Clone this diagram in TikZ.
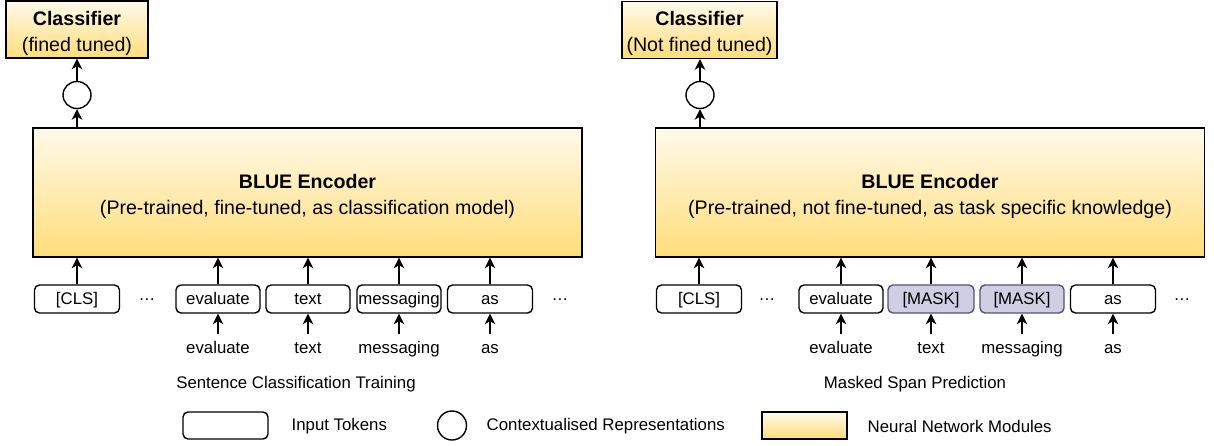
\documentclass[tikz,border=0pt]{standalone}
\usepackage{fontspec}
\setmainfont{Liberation Sans}
\usetikzlibrary{arrows.meta,shapes.geometric}
\definecolor{maskfill}{HTML}{D0CEE2}
\definecolor{maskdraw}{HTML}{56517E}
\definecolor{ytop}{HTML}{FFFAEB}
\definecolor{ybot}{HTML}{FFDD7A}
\newcommand{\tstrut}{\rule{0pt}{22pt}}
\begin{document}
\begin{tikzpicture}[x=1pt,y=-1pt,line width=1.4pt,
  tok/.style={draw,rounded corners=5pt,minimum width=84pt,minimum height=28pt,inner sep=0pt,text height=13pt,text depth=2pt,font=\fontsize{16.8}{20}\selectfont},
  masktok/.style={tok,fill=maskfill,draw=maskdraw},
  lbl/.style={inner sep=0pt,font=\fontsize{16.8}{20}\selectfont},
  sub/.style={lbl,text height=13pt,text depth=4pt,anchor=base},
  module/.style={draw,top color=ytop,bottom color=ybot,inner sep=0pt,align=center,font=\fontsize{19.6}{26}\selectfont},
  rep/.style={draw,ellipse,minimum width=28pt,minimum height=27pt,inner sep=0pt},
  arr/.style={-{Stealth[length=10.5pt,width=10.5pt,inset=3pt]}}]
\useasboundingbox (0,0) rectangle (1214,445);

% ---------- left panel ----------
\node[module,minimum width=142pt,minimum height=57pt] (clsL) at (77,29.5) {\tstrut\textbf{Classifier}\\(fined tuned)};
\node[rep] (repL) at (77,95) {};
\node[module,minimum width=549pt,minimum height=129pt] (encL) at (307.5,192.5) {\tstrut\textbf{BLUE Encoder}\\(Pre-trained, fine-tuned, as classification model)};
\draw[arr] (repL.north) -- (clsL.south);
\draw[arr] (repL |- encL.north) -- (repL.south);

\node[tok,minimum width=85pt] (aL1) at (77,299) {[CLS]};
\node[lbl] (dL1) at (147,300) {\ldots};
\node[tok] (aL2) at (218,299) {evaluate};
\node[tok] (aL3) at (308,299) {text};
\node[tok] (aL4) at (399,299) {messaging};
\node[tok,minimum width=85pt] (aL5) at (490,299) {as};
\node[lbl] (dL2) at (560,300) {\ldots};
\foreach \i in {1,...,5} {\draw[arr] (aL\i.north) -- (aL\i.north |- encL.south);}

\node[sub] (bL2) at (218,353) {evaluate};
\node[sub] (bL3) at (308,353) {text};
\node[sub] (bL4) at (399,353) {messaging};
\node[sub] (bL5) at (490,353) {as};
\foreach \i in {2,...,5} {\draw[arr,shorten <=5pt] (bL\i.north) -- (aL\i.south);}

\node[lbl] (capL) at (296,384) {Sentence Classification Training};

% ---------- right panel ----------
\node[module,minimum width=155pt,minimum height=57pt] (clsR) at (699.5,30) {\tstrut\textbf{Classifier}\\(Not fined tuned)};
\node[rep] (repR) at (700,95) {};
\node[module,minimum width=549pt,minimum height=129pt] (encR) at (930,192.5) {\tstrut\textbf{BLUE Encoder}\\(Pre-trained, not fine-tuned, as task specific knowledge)};
\draw[arr] (repR.north) -- (repR.north |- clsR.south);
\draw[arr] (repR |- encR.north) -- (repR.south);

\node[tok,minimum width=85pt] (aR1) at (699,299) {[CLS]};
\node[lbl] (dR1) at (767,300) {\ldots};
\node[tok] (aR2) at (841,299) {evaluate};
\node[masktok,minimum width=86pt] (aR3) at (931,299) {[MASK]};
\node[masktok] (aR4) at (1022,299) {[MASK]};
\node[tok,minimum width=85pt] (aR5) at (1113,299) {as};
\node[lbl] (dR2) at (1182,300) {\ldots};
\foreach \i in {1,...,5} {\draw[arr] (aR\i.north) -- (aR\i.north |- encR.south);}

\node[sub] (bR2) at (841,353) {evaluate};
\node[sub] (bR3) at (931,353) {text};
\node[sub] (bR4) at (1022,353) {messaging};
\node[sub] (bR5) at (1113,353) {as};
\foreach \i in {2,...,5} {\draw[arr,shorten <=5pt] (bR\i.north) -- (aR\i.south);}

\node[lbl] (capR) at (915,384) {Masked Span Prediction};

% ---------- legend ----------
\node[tok,minimum width=85pt,minimum height=27pt] (legT) at (225.5,425.5) {};
\node[lbl,anchor=west] (legTt) at (291,426) {Input Tokens};
\node[rep,minimum width=29pt,minimum height=29pt] (legC) at (452,425.5) {};
\node[lbl,anchor=west] (legCt) at (486,426) {Contextualised Representations};
\node[module,minimum width=85pt,minimum height=27pt] (legM) at (804.5,425.5) {};
\node[lbl,anchor=west] (legMt) at (867,426) {Neural Network Modules};
\end{tikzpicture}
\end{document}
